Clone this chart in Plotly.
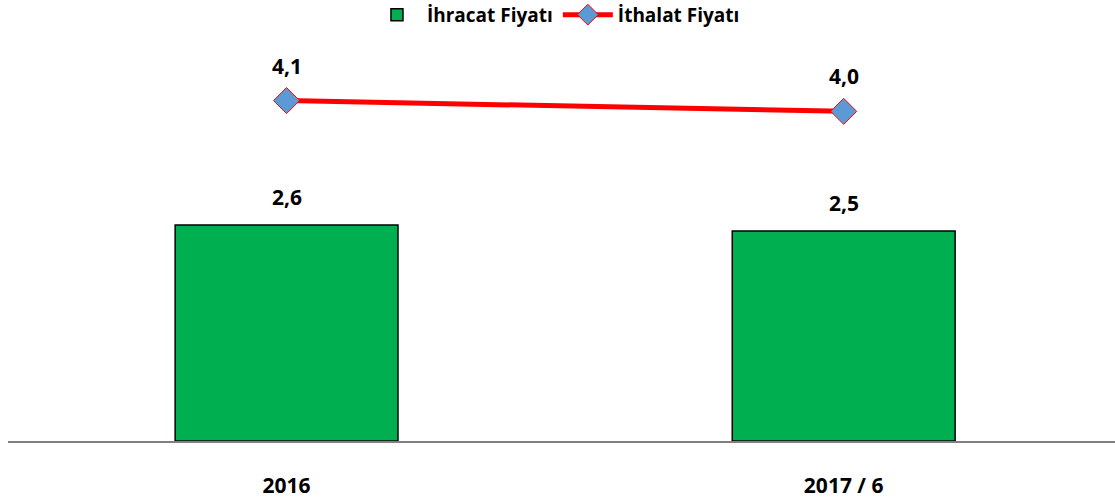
import plotly.graph_objects as go

categories = ["2016", "2017 / 6"]
ihracat = [2.6, 2.53]
ithalat = [4.1, 3.97]
series_names = ["İhracat Fiyatı", "İthalat Fiyatı"]

FONT = "Open Sans"

fig = go.Figure()
fig.add_trace(go.Bar(
    x=categories, y=ihracat, name=series_names[0],
    marker=dict(color="#00B050", line=dict(color="#000000", width=1.5)),
    width=0.4,
))
fig.add_trace(go.Scatter(
    x=categories, y=ithalat, name=series_names[1], mode="lines+markers",
    line=dict(color="#FF0000", width=5),
    marker=dict(symbol="diamond", size=20, color="#5B9BD5",
                line=dict(color="#FF0000", width=1)),
))

annotations = []
for i, v in enumerate(ihracat):
    annotations.append(dict(x=i, y=v, xref="x", yref="y",
                            text=f"{v:.1f}".replace(".", ","),
                            showarrow=False, yshift=28,
                            font=dict(family=FONT, size=21, color="#000", weight="bold")))
for i, v in enumerate(ithalat):
    annotations.append(dict(x=i, y=v, xref="x", yref="y",
                            text=f"{v:.1f}".replace(".", ","),
                            showarrow=False, yshift=35,
                            font=dict(family=FONT, size=21, color="#000", weight="bold")))

fig.update_layout(
    width=1115, height=501,
    margin=dict(l=8, r=0, t=30, b=60, autoexpand=False),
    plot_bgcolor="white", paper_bgcolor="white",
    showlegend=True,
    legend=dict(orientation="h", x=0.495, xanchor="center", y=1.037, yanchor="middle",
                font=dict(family=FONT, size=19, color="#000", weight="bold"),
                itemwidth=50, tracegroupgap=0),
    annotations=annotations,
    xaxis=dict(type="category", range=[-0.5, 1.487], showline=True, linecolor="#808080",
               linewidth=2, showgrid=False, ticks="", ticklabelstandoff=25,
               automargin=False,
               tickfont=dict(family=FONT, size=21, color="#000", weight="bold")),
    yaxis=dict(range=[0, 4.95], visible=False, showgrid=False, automargin=False),
)

fig.write_html("out.html", config={"displayModeBar": False},
               post_script="document.body.style.margin='0';")
